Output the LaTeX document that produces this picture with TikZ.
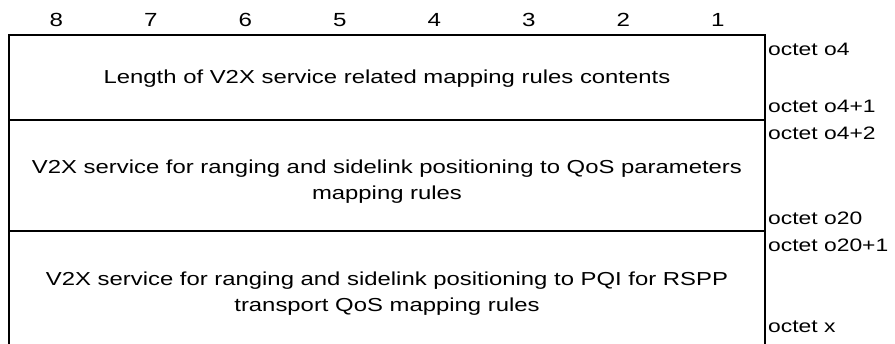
\documentclass[tikz,border=0pt]{standalone}
\usepackage{fontspec}
\setmainfont[FakeStretch=1.27]{Liberation Sans}
\begin{document}
\begin{tikzpicture}[x=1pt,y=-1pt,
  field/.style={align=center,font=\fontsize{18.8}{26}\selectfont},
  octet/.style={anchor=west,inner sep=0pt,font=\fontsize{18}{20}\selectfont},
  bitno/.style={font=\fontsize{19}{20}\selectfont}]
\useasboundingbox (0,0) rectangle (895,343);
% bit numbers
\foreach \x in {1,...,8}{
\pgfmathtruncatemacro{\b}{9-\x}
\node[bitno] (bit\b) at (9+94.5*\x-47.25,20) {\b};
}
% frame
\draw [line width=1.5pt] (9,345) -- (9,35) -- (765,35) -- (765,345);
\draw [line width=1.5pt] (9,120) -- (765,120);
\draw [line width=1.5pt] (9,231) -- (765,231);
% fields
\node[field] (len) at (387,79) {Length of V2X service related mapping rules contents};
\node[field] (qos) at (387,182) {V2X service for ranging and sidelink positioning to QoS parameters\\mapping rules};
\node[field] (pqi) at (387,294) {V2X service for ranging and sidelink positioning to PQI for RSPP\\transport QoS mapping rules};
% octets
\node[octet] (o4) at (768,49) {octet o4};
\node[octet] (o4a) at (768,106) {octet o4+1};
\node[octet] (o4b) at (768,133) {octet o4+2};
\node[octet] (o20) at (768,218) {octet o20};
\node[octet] (o20a) at (768,245) {octet o20+1};
\node[octet] (ox) at (768,327) {octet x};
\end{tikzpicture}
\end{document}
